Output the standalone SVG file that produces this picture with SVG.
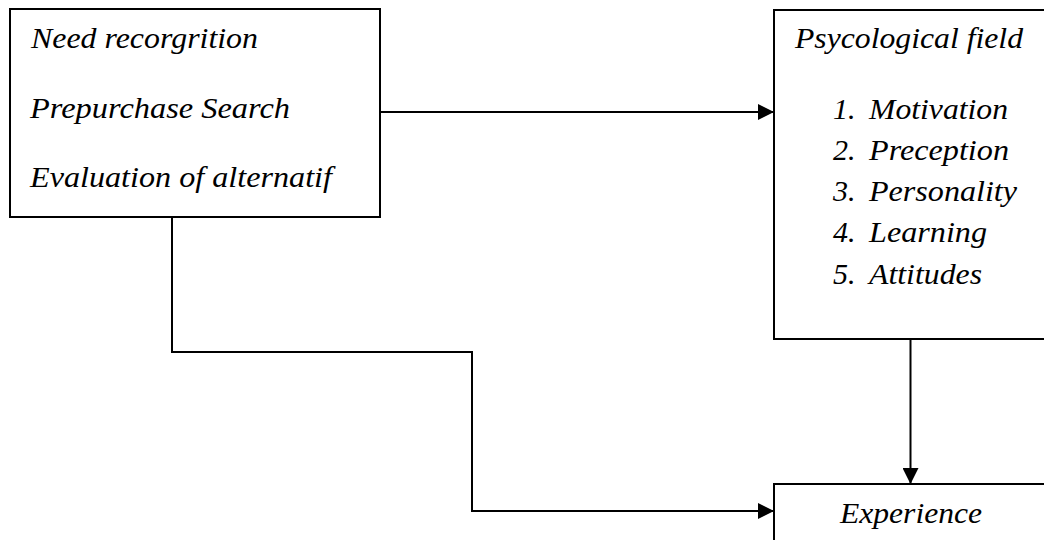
<svg xmlns="http://www.w3.org/2000/svg" width="1044" height="540" viewBox="0 0 1044 540">
<style>
.box{fill:#fff;stroke:#000;stroke-width:2}
.t{font-family:'Liberation Serif','Times New Roman',serif;font-style:italic;font-size:30px;fill:#000}
.c{fill:none;stroke:#000;stroke-width:2}
</style>
<defs>
<marker id="ah" viewBox="0 0 16 16" refX="16" refY="8" markerWidth="16" markerHeight="16" markerUnits="userSpaceOnUse" orient="auto">
<path d="M0,0 L16,8 L0,16 Z" fill="#000"/>
</marker>
</defs>
<rect width="1044" height="540" fill="#fff"/>
<g id="stages">
<rect class="box" x="10" y="9" width="370" height="208"/>
<text class="t" x="31" y="48" textLength="227" lengthAdjust="spacingAndGlyphs">Need recorgrition</text>
<text class="t" x="30" y="118" textLength="260" lengthAdjust="spacingAndGlyphs">Prepurchase Search</text>
<text class="t" x="30" y="187" textLength="302" lengthAdjust="spacingAndGlyphs">Evaluation of alternatif</text>
</g>
<g id="psychological">
<rect class="box" x="774" y="10" width="290" height="329"/>
<text class="t" x="795" y="48" textLength="228" lengthAdjust="spacingAndGlyphs">Psycological field</text>
<text class="t" x="833" y="119">1.</text><text class="t" x="869" y="119" textLength="139" lengthAdjust="spacingAndGlyphs">Motivation</text>
<text class="t" x="833" y="160">2.</text><text class="t" x="869" y="160" textLength="140" lengthAdjust="spacingAndGlyphs">Preception</text>
<text class="t" x="833" y="201">3.</text><text class="t" x="869" y="201" textLength="148" lengthAdjust="spacingAndGlyphs">Personality</text>
<text class="t" x="833" y="242">4.</text><text class="t" x="869" y="242" textLength="118" lengthAdjust="spacingAndGlyphs">Learning</text>
<text class="t" x="833" y="284">5.</text><text class="t" x="869" y="284" textLength="113" lengthAdjust="spacingAndGlyphs">Attitudes</text>
</g>
<g id="experience">
<rect class="box" x="774" y="484" width="290" height="80"/>
<text class="t" x="840" y="523" textLength="142" lengthAdjust="spacingAndGlyphs">Experience</text>
</g>
<g id="connectors">
<path class="c" d="M380,112 L774,112" marker-end="url(#ah)"/>
<path class="c" d="M910.5,339 L910.5,484" marker-end="url(#ah)"/>
<path class="c" d="M172,217 L172,352 L472,352 L472,511 L774,511" marker-end="url(#ah)"/>
</g>
</svg>
